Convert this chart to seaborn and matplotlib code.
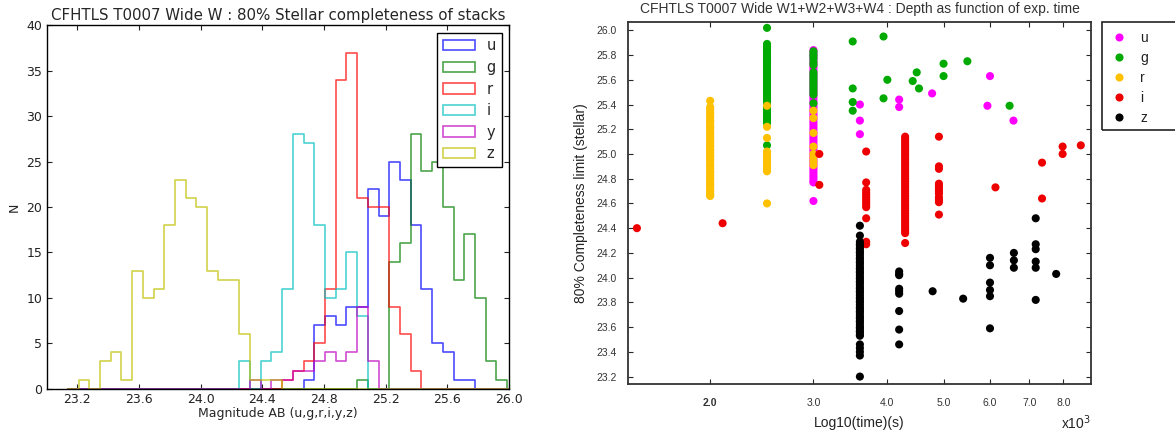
import numpy as np
import pandas as pd
import matplotlib
matplotlib.use("Agg")
import matplotlib.pyplot as plt
from matplotlib.patches import Patch, Rectangle
from matplotlib.ticker import NullLocator, FixedLocator
import seaborn as sns

# ---------------------------------------------------------------- histogram data
hist_bands = ["u", "g", "r", "i", "y", "z"]
hist_colors = [(0, 0, 1), (0, 0.5, 0), (1, 0, 0), (0, 0.75, 0.75),
               (0.75, 0, 0.75), (0.75, 0.75, 0)]
bin_start = 23.208
bin_width = 0.0695

u_counts = [0, 0, 0, 0, 0, 0, 0, 0, 0, 0,
            0, 0, 0, 0, 0, 0, 0, 0, 0, 0,
            0, 1, 7, 8, 7, 9, 9, 22, 19, 25,
            23, 18, 11, 5, 4, 1, 1, 0, 0, 0]
g_counts = [0, 0, 0, 0, 0, 0, 0, 0, 0, 0,
            0, 0, 0, 0, 0, 0, 0, 0, 0, 0,
            0, 0, 0, 0, 0, 0, 1, 0, 0, 14,
            16, 28, 24, 25, 20, 12, 17, 10, 3, 1]
r_counts = [0, 0, 0, 0, 0, 0, 0, 0, 0, 0,
            0, 0, 0, 0, 0, 0, 0, 0, 0, 1,
            2, 3, 5, 11, 34, 37, 21, 20, 20, 9,
            6, 2, 0, 0, 0, 0, 0, 0, 0, 0]
i_counts = [0, 0, 0, 0, 0, 0, 0, 0, 0, 0,
            0, 0, 0, 0, 0, 3, 0, 3, 4, 11,
            28, 27, 18, 10, 11, 15, 8, 0, 0, 0,
            0, 0, 0, 0, 0, 0, 0, 0, 0, 0]
y_counts = [0, 0, 0, 0, 0, 0, 0, 0, 0, 0,
            0, 0, 0, 0, 0, 0, 1, 0, 1, 1,
            2, 2, 3, 4, 3, 4, 9, 3, 0, 0,
            0, 0, 0, 0, 0, 0, 0, 0, 0, 0]
z_counts = [1, 0, 3, 4, 1, 13, 10, 11, 18, 23,
            21, 20, 13, 12, 12, 6, 1, 1, 1, 0,
            0, 0, 0, 0, 0, 0, 0, 0, 0, 0,
            0, 0, 0, 0, 0, 0, 0, 0, 0, 0]
hist_counts = [u_counts, g_counts, r_counts, i_counts, y_counts, z_counts]

# ---------------------------------------------------------------- depth data
# (exposure time [s], [80% completeness magnitudes])
depth_bands = ["u", "g", "r", "i", "z"]
depth_colors = ["#ff00ff", "#00aa00", "#ffc000", "#ee0000", "#000000"]

u_depth = [
    (3000, [25.84, 25.82, 25.80, 25.78, 25.76, 25.74, 25.72, 25.70, 25.68, 25.66,
            25.64, 25.62, 25.60, 25.58, 25.56, 25.54, 25.52, 25.50, 25.48, 25.46,
            25.44, 25.42, 25.40, 25.38, 25.36, 25.34, 25.32, 25.30, 25.28, 25.26,
            25.24, 25.22, 25.20, 25.18, 25.16, 25.14, 25.12, 25.10, 25.08, 25.06,
            25.04, 25.02, 25.00, 24.98, 24.96, 24.94, 24.92, 24.90, 24.88, 24.86,
            24.84, 24.82, 24.80, 24.78, 24.77, 24.62]),
    (3600, [25.40, 25.27, 25.16]),
    (4200, [25.44, 25.38]),
    (4780, [25.49]),
    (5940, [25.39]),
    (6000, [25.63]),
    (6580, [25.27]),
]
g_depth = [
    (2500, [26.02, 25.89, 25.87, 25.86, 25.84, 25.83, 25.81, 25.79, 25.78, 25.76,
            25.74, 25.73, 25.71, 25.69, 25.68, 25.66, 25.64, 25.63, 25.61, 25.59,
            25.58, 25.56, 25.54, 25.53, 25.51, 25.49, 25.48, 25.46, 25.44, 25.43,
            25.41, 25.39, 25.38, 25.36, 25.34, 25.33, 25.31, 25.29, 25.28, 25.26,
            25.25, 25.07]),
    (3000, [25.83, 25.81, 25.79, 25.77, 25.74, 25.72, 25.66, 25.64, 25.62, 25.60,
            25.58, 25.56, 25.54, 25.52, 25.50, 25.48, 25.41]),
    (3500, [25.91, 25.53, 25.42, 25.35]),
    (3950, [25.95, 25.45]),
    (4010, [25.60]),
    (4430, [25.59]),
    (4500, [25.66]),
    (4540, [25.53]),
    (5000, [25.73, 25.63]),
    (5490, [25.75]),
    (6480, [25.39]),
]
r_depth = [
    (2000, [25.43, 25.38, 25.36, 25.34, 25.33, 25.31, 25.29, 25.27, 25.26, 25.24,
            25.22, 25.21, 25.19, 25.17, 25.16, 25.14, 25.12, 25.11, 25.09, 25.07,
            25.06, 25.04, 25.03, 25.01, 24.99, 24.98, 24.96, 24.95, 24.93, 24.91,
            24.90, 24.88, 24.86, 24.85, 24.83, 24.81, 24.80, 24.78, 24.76, 24.75,
            24.73, 24.71, 24.70, 24.68, 24.67, 24.66]),
    (2500, [25.39, 25.22, 25.13, 25.02, 25.00, 24.98, 24.96, 24.94, 24.92, 24.90,
            24.88, 24.86, 24.60]),
    (3000, [25.35, 25.29, 25.17, 25.06, 25.00, 24.97, 24.94, 24.91]),
]
i_depth = [
    (1500, [24.40]),
    (2100, [24.44]),
    (3070, [25.00, 24.75]),
    (3690, [25.02, 24.77, 24.71, 24.69, 24.67, 24.65, 24.63, 24.61, 24.59, 24.57,
            24.48, 24.29, 24.27]),
    (4300, [25.14, 25.12, 25.10, 25.08, 25.06, 25.04, 25.02, 25.00, 24.98, 24.96,
            24.94, 24.92, 24.90, 24.88, 24.86, 24.84, 24.82, 24.80, 24.78, 24.76,
            24.74, 24.72, 24.70, 24.68, 24.66, 24.64, 24.62, 24.60, 24.58, 24.56,
            24.54, 24.52, 24.50, 24.48, 24.46, 24.44, 24.42, 24.40, 24.38, 24.36,
            24.28]),
    (4910, [25.14, 24.90, 24.88, 24.76, 24.74, 24.72, 24.70, 24.68, 24.65, 24.63,
            24.61, 24.51]),
    (6130, [24.73]),
    (7360, [24.93, 24.64]),
    (7980, [25.06, 25.00]),
    (8570, [25.07]),
]
z_depth = [
    (3600, [24.42, 24.34, 24.29, 24.27, 24.26, 24.24, 24.23, 24.21, 24.20, 24.18,
            24.16, 24.15, 24.13, 24.12, 24.10, 24.08, 24.07, 24.05, 24.04, 24.02,
            24.00, 23.99, 23.97, 23.96, 23.94, 23.92, 23.91, 23.89, 23.88, 23.86,
            23.84, 23.83, 23.81, 23.80, 23.78, 23.76, 23.75, 23.73, 23.72, 23.70,
            23.68, 23.67, 23.65, 23.64, 23.62, 23.60, 23.59, 23.57, 23.56, 23.54,
            23.53, 23.46, 23.43, 23.40, 23.37, 23.20]),
    (4200, [24.05, 24.03, 24.02, 23.91, 23.89, 23.87, 23.73, 23.58, 23.46]),
    (4790, [23.89]),
    (5400, [23.83]),
    (6000, [24.16, 24.10, 23.96, 23.90, 23.85, 23.59]),
    (6590, [24.20, 24.14, 24.08]),
    (7180, [24.48, 24.27, 24.23, 24.13, 24.08, 23.82]),
    (7780, [24.03]),
]
depth_columns = [u_depth, g_depth, r_depth, i_depth, z_depth]

time_ticks = [2000, 3000, 4000, 5000, 6000, 7000, 8000]
time_tick_labels = ["2.0", "3.0", "4.0", "5.0", "6.0", "7.0", "8.0"]

# ---------------------------------------------------------------- style
sns.set_theme(style="white")
plt.rcParams.update({
    "font.family": ["DejaVu Sans"],
    "xtick.direction": "in",
    "ytick.direction": "in",
    "xtick.top": True,
    "ytick.right": True,
    "xtick.bottom": True,
    "ytick.left": True,
    "xtick.major.size": 3.5,
    "ytick.major.size": 3.5,
    "xtick.major.width": 0.8,
    "ytick.major.width": 0.8,
    "axes.edgecolor": "black",
    "axes.linewidth": 1.0,
})

fig = plt.figure(figsize=(11.75, 4.36), dpi=100)

# ---------------------------------------------------------------- left: histograms
ax1 = fig.add_axes([0.0396, 0.1085, 0.3936, 0.8335])
n_bins = len(u_counts)
edges = bin_start + bin_width * np.arange(-1, n_bins + 2)
centers = 0.5 * (edges[:-1] + edges[1:])
handles = []
for band, color, counts in zip(hist_bands, hist_colors, hist_counts):
    binned = pd.DataFrame({"mag": centers,
                           "n": np.concatenate([[0], counts, [0]]).astype(float)})
    sns.histplot(data=binned, x="mag", weights="n", bins=list(edges),
                 element="step", fill=False, color=color, alpha=0.7,
                 linewidth=1.2, ax=ax1)
    handles.append(Patch(facecolor="none", edgecolor=color, alpha=0.7,
                         linewidth=1.2, label=band))

ax1.set_xlim(23.0, 26.0)
ax1.set_ylim(0, 40)
ax1.set_xticks([23.2, 23.6, 24.0, 24.4, 24.8, 25.2, 25.6, 26.0])
ax1.set_xticklabels(["23.2", "23.6", "24.0", "24.4", "24.8", "25.2", "25.6", "26.0"])
ax1.set_yticks([0, 5, 10, 15, 20, 25, 30, 35, 40])
ax1.tick_params(labelsize=9, colors="#222222", pad=3)
ax1.set_xlabel("Magnitude AB (u,g,r,i,y,z)", fontsize=9, labelpad=1)
ax1.set_ylabel("N", fontsize=9, labelpad=4)
ax1.set_title("CFHTLS T0007 Wide W : 80% Stellar completeness of stacks",
              fontsize=10.8, pad=4)
leg1 = ax1.legend(handles=handles, loc="upper right", fontsize=10.5,
                  fancybox=False, framealpha=1, edgecolor="black",
                  handlelength=2.2, labelspacing=0.45, borderpad=0.4)
leg1.get_frame().set_linewidth(1.0)

# ---------------------------------------------------------------- right: depth vs time
rows = []
for band, columns in zip(depth_bands, depth_columns):
    for t, mags in columns:
        for m in mags:
            rows.append((band, t, m))
depth = pd.DataFrame(rows, columns=["band", "time", "mag"])

ax2 = fig.add_axes([0.5347, 0.1193, 0.3938, 0.831])
sns.scatterplot(data=depth, x="time", y="mag", hue="band",
                hue_order=depth_bands, palette=dict(zip(depth_bands, depth_colors)),
                s=34, edgecolor="none", linewidth=0, ax=ax2)
ax2.set_xscale("log")
ax2.set_xlim(1450, 8920)
ax2.set_ylim(23.14, 26.07)
ax2.xaxis.set_major_locator(FixedLocator(time_ticks))
ax2.xaxis.set_minor_locator(NullLocator())
ax2.set_xticklabels(time_tick_labels)
ax2.set_yticks(np.round(np.arange(23.2, 26.01, 0.2), 1))
ax2.set_yticklabels([f"{v:.1f}" for v in np.arange(23.2, 26.01, 0.2)])

sans2 = ["Liberation Sans", "DejaVu Sans"]
for lab in ax2.get_xticklabels() + ax2.get_yticklabels():
    lab.set_family(sans2)
    lab.set_fontsize(7.5)
    lab.set_color("#333333")
ax2.get_xticklabels()[0].set_fontweight("bold")
ax2.tick_params(axis="x", pad=10)
ax2.tick_params(axis="y", pad=8)
for sp in ax2.spines.values():
    sp.set_color("#333333")
    sp.set_linewidth(1.3)

ax2.set_xlabel("Log10(time)(s)", family=sans2, fontsize=10, color="#222222", labelpad=6)
ax2.set_ylabel("80% Completeness limit (stellar)", family=sans2, fontsize=10,
               color="#222222", labelpad=6)
ax2.set_title("CFHTLS T0007 Wide W1+W2+W3+W4 : Depth as function of exp. time",
              family=sans2, fontsize=10, color="#333333", pad=6)
ax2.text(1.0, -0.108, "x10$^3$", transform=ax2.transAxes, ha="right", va="center",
         family=sans2, fontsize=10, color="#222222")

sns.move_legend(ax2, "upper left", bbox_to_anchor=(1.013, 1.008), frameon=False,
                title=None, fontsize=10, handlelength=1.4, handletextpad=0.8,
                labelspacing=0.42, borderpad=0.4)
for txt in ax2.get_legend().get_texts():
    txt.set_family(sans2)
    txt.set_color("#222222")

fig.add_artist(Rectangle((1102 / 1175, 1 - 130 / 436), 0.2, (130 - 21.7) / 436,
                         transform=fig.transFigure, fill=False,
                         edgecolor="#222222", linewidth=1.2))

fig.savefig("out.png", dpi=100)
